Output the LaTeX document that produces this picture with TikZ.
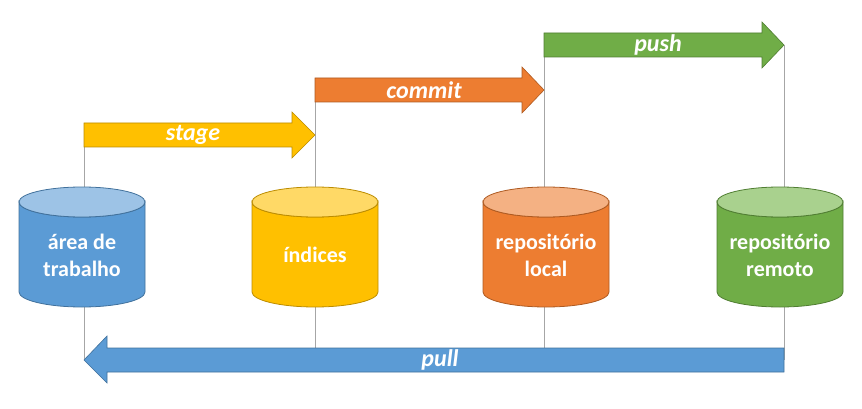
\documentclass[tikz,border=0pt]{standalone}
\usepackage{fontspec}
\setmainfont{Carlito}
\definecolor{bluef}{HTML}{5B9BD5}\definecolor{bluet}{HTML}{9DC3E6}\definecolor{blued}{HTML}{41719C}
\definecolor{yelf}{HTML}{FFC000}\definecolor{yelt}{HTML}{FFD966}\definecolor{yeld}{HTML}{BC8C00}
\definecolor{oraf}{HTML}{ED7D31}\definecolor{orat}{HTML}{F4B183}\definecolor{orad}{HTML}{AE5A21}
\definecolor{grnf}{HTML}{70AD47}\definecolor{grnt}{HTML}{A9D18E}\definecolor{grnd}{HTML}{507E32}
\definecolor{guide}{HTML}{A6A6A6}
\begin{document}
\begin{tikzpicture}[x=1pt,y=-1pt,
  guideline/.style={draw=guide,line width=0.8pt},
  cyllabel/.style={text=white,font=\fontsize{22}{27}\selectfont\bfseries,align=center},
  arrlabel/.style={text=white,font=\fontsize{24}{28}\selectfont\bfseries\itshape},
  arrshape/.style={line width=0.6pt,line join=miter}]
\useasboundingbox (0,0) rectangle (862,409);
% guide lines
\coordinate (g1t) at (84,123); \coordinate (g1b) at (84,360);
\coordinate (g2t) at (315,79); \coordinate (g2b) at (315,360);
\coordinate (g3t) at (544,33); \coordinate (g3b) at (544,360);
\coordinate (g4t) at (784,45); \coordinate (g4b) at (784,360);
\draw[guideline] (g1t) -- (g1b);
\draw[guideline] (g2t) -- (g2b);
\draw[guideline] (g3t) -- (g3b);
\draw[guideline] (g4t) -- (g4b);
% cylinders
\newcommand\mycyl[4]{%
  \path[fill=#2,draw=#4,line width=0.8pt] (#1-63,202) -- (#1-63,292)
     arc[start angle=180,end angle=0,x radius=63,y radius=15] -- (#1+63,202)
     arc[start angle=0,end angle=180,x radius=63,y radius=15] -- cycle;
  \path[fill=#3,draw=#4,line width=0.8pt] (#1,202) ellipse[x radius=63,y radius=15];}
\mycyl{82}{bluef}{bluet}{blued}
\mycyl{315}{yelf}{yelt}{yeld}
\mycyl{546}{oraf}{orat}{orad}
\mycyl{780}{grnf}{grnt}{grnd}
\node[cyllabel] (wa) at (82,255) {área de\\trabalho};
\node[cyllabel] (ix) at (315,255) {índices};
\node[cyllabel] (lr) at (546,255) {repositório\\local};
\node[cyllabel] (rr) at (780,255) {repositório\\remoto};
% arrows
\path[arrshape,fill=yelf,draw=yeld] (84,123) -- (292,123) -- (292,112) -- (315,135) -- (292,158) -- (292,147) -- (84,147) -- cycle;
\path[arrshape,fill=oraf,draw=orad] (315,78) -- (522,78) -- (522,67) -- (544,90) -- (522,113) -- (522,102) -- (315,102) -- cycle;
\path[arrshape,fill=grnf,draw=grnd] (544,33) -- (762,33) -- (762,22) -- (784,45) -- (762,68) -- (762,57) -- (544,57) -- cycle;
\path[arrshape,fill=bluef,draw=blued] (784,348) -- (107,348) -- (107,336) -- (84,360) -- (107,383) -- (107,372) -- (784,372) -- cycle;
\node[arrlabel] (stg) at (193,135) {stage};
\node[arrlabel] (cmt) at (424,90) {commit};
\node[arrlabel] (psh) at (658,45) {push};
\node[arrlabel] (pll) at (440,360) {pull};
\end{tikzpicture}
\end{document}
